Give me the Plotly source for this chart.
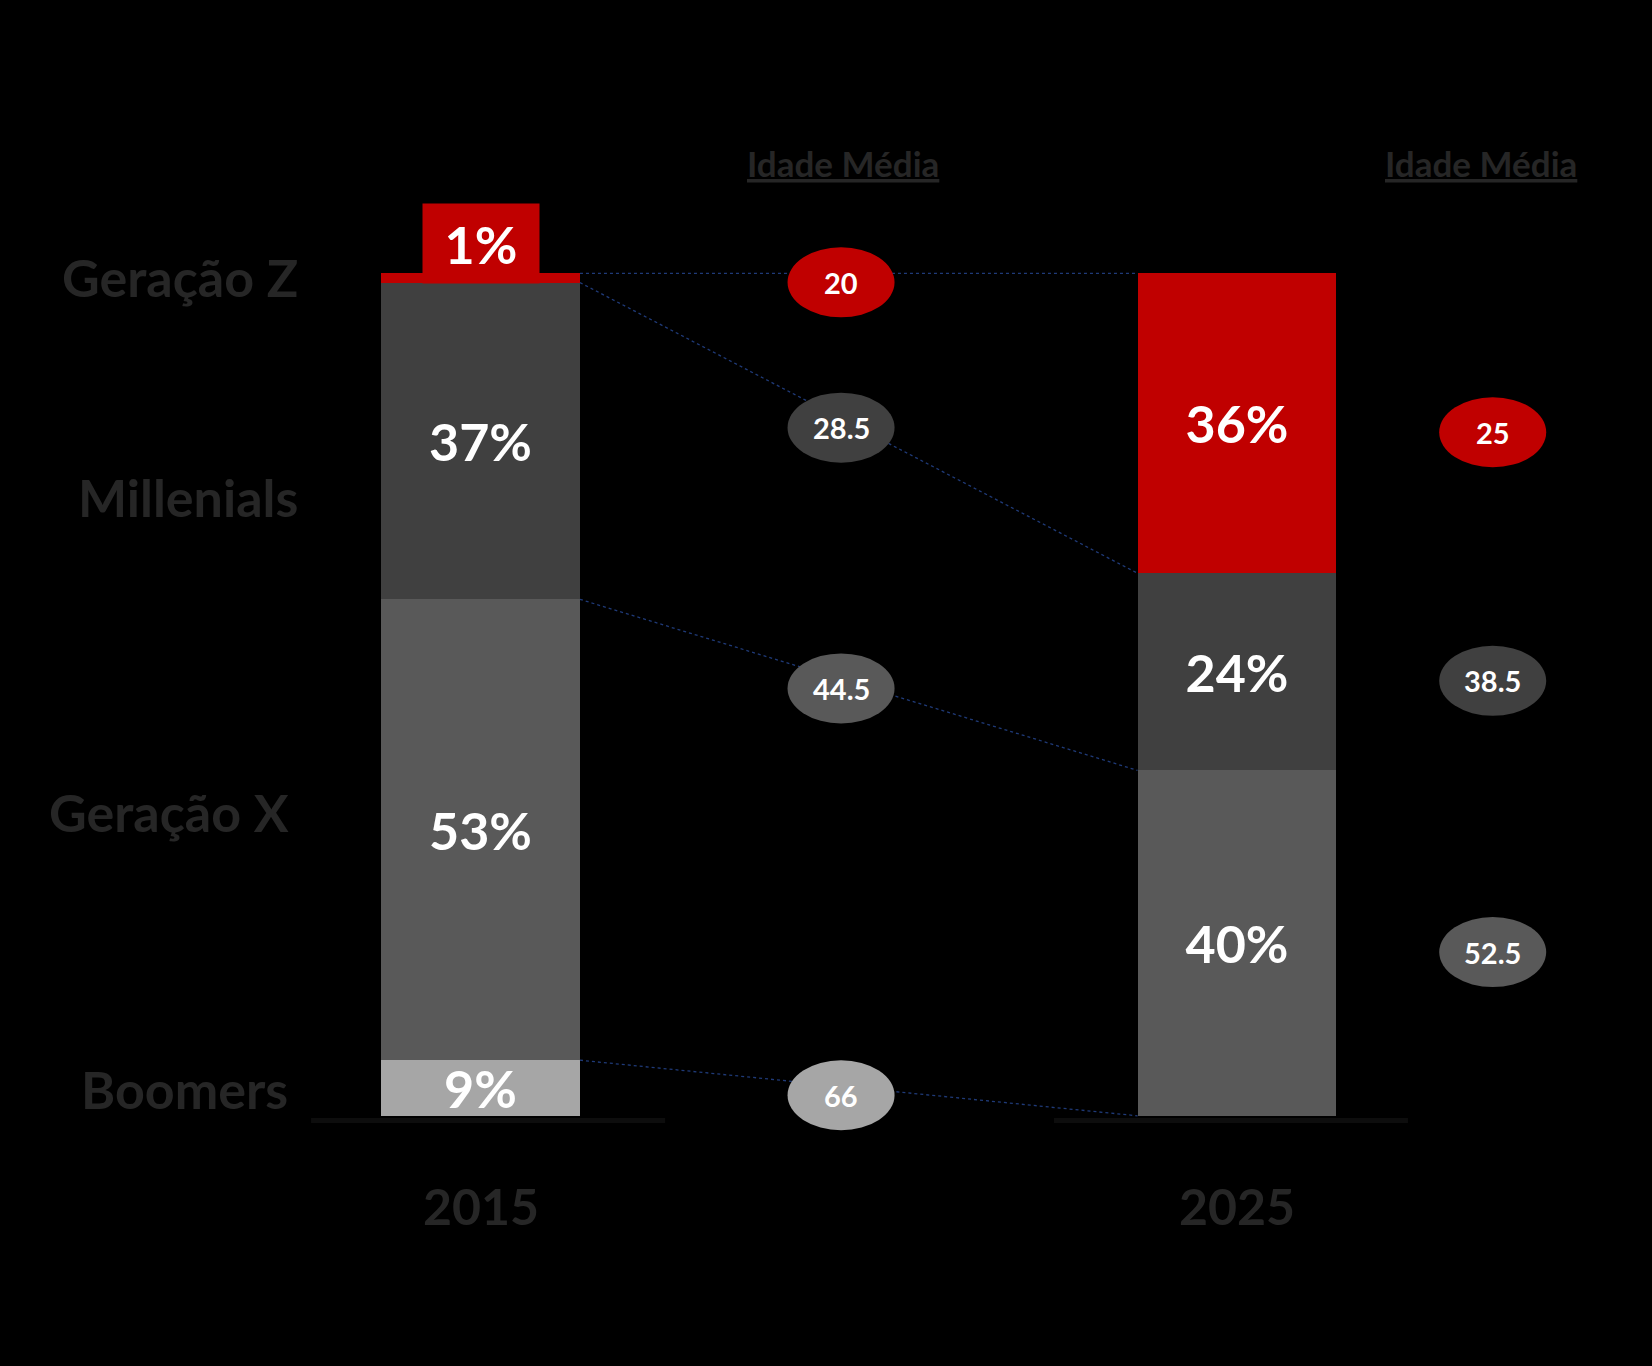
import plotly.graph_objects as go

# ---------------- data ----------------
years = ["2015", "2025"]
generations = ["Boomers", "Geração X", "Millenials", "Geração Z"]   # bottom -> top
share_2015 = [6.6, 54.7, 37.6, 1.1]          # bar heights as drawn (%)
share_2025 = [0.0, 41.0, 23.4, 35.6]
labels_2015 = ["9%", "53%", "37%", "1%"]
labels_2025 = ["", "40%", "24%", "36%"]
age_2015 = ["66", "44.5", "28.5", "20"]
age_2025 = ["", "52.5", "38.5", "25"]
header_text = "Idade Média"

# ---------------- style / layout ----------------
W, H = 1652, 1366
FONT = "Lato"
colors = ["#A6A6A6", "#595959", "#404040", "#C00000"]
TEXT_GREY = "#262626"
LINE_BLUE = "#1F3A78"

PX_PER_PCT = 8.425
Y_ZERO_PX = 1115.8
PX_PER_X = 756.5
X_ZERO_PX = 480.5
y_range = [-(H - Y_ZERO_PX) / PX_PER_PCT, Y_ZERO_PX / PX_PER_PCT]
x_range = [-X_ZERO_PX / PX_PER_X, (W - X_ZERO_PX) / PX_PER_X]

BAR_W = 0.263
COL_MID = 0.4766      # first "Idade Média" column
COL_RIGHT = 1.338     # second "Idade Média" column
ELL_W = 107 / PX_PER_X
ELL_H = 70 / PX_PER_PCT
ELL_SHIFT = -9 / PX_PER_PCT   # ellipses sit slightly below their guide
BASE_OFFSET = [0.01, -0.008]  # base-line centre offsets from bar centres

xpos = [0, 1]

fig = go.Figure()

def cumsum(v):
    out, s = [], 0
    for a in v:
        s += a
        out.append(s)
    return out

cum15 = cumsum(share_2015)
cum25 = cumsum(share_2025)

# connector lines (behind everything)
for i in range(len(generations)):
    fig.add_trace(go.Scatter(
        x=[xpos[0] + BAR_W / 2, xpos[1] - BAR_W / 2],
        y=[cum15[i], cum25[i]],
        mode="lines",
        line=dict(color=LINE_BLUE, width=1.3, dash="3px,3px"),
        hoverinfo="skip", showlegend=False))

# stacked bars
for i, g in enumerate(generations):
    t15 = labels_2015[i] if share_2015[i] > 3 else ""
    t25 = labels_2025[i] if share_2025[i] > 3 else ""
    fig.add_trace(go.Bar(
        x=xpos, y=[share_2015[i], share_2025[i]], width=BAR_W,
        name=g, marker=dict(color=colors[i], line=dict(width=0)),
        text=[t15, t25], textposition="inside", insidetextanchor="middle",
        textfont=dict(family=FONT, size=52, color="white", weight="bold"),
        hoverinfo="skip", showlegend=False))

shapes = []
annotations = []

# base lines under each bar
for xp, off in zip(xpos, BASE_OFFSET):
    shapes.append(dict(type="line", xref="x", yref="y",
                       x0=xp + off - 0.234, x1=xp + off + 0.234,
                       y0=-0.56, y1=-0.56,
                       line=dict(color="#0D0D0D", width=5), layer="below"))

# ellipses: middle column on the connectors, right column at 2025 segment mids
frac = (COL_MID - BAR_W / 2) / (1 - BAR_W)
for i in range(len(generations)):
    y_mid = cum15[i] + (cum25[i] - cum15[i]) * frac + ELL_SHIFT
    items = [(COL_MID, y_mid, age_2015[i])]
    if age_2025[i]:
        items.append((COL_RIGHT, cum25[i] - share_2025[i] / 2 + ELL_SHIFT,
                      age_2025[i]))
    for cx, cy, txt in items:
        shapes.append(dict(type="circle", xref="x", yref="y",
                           x0=cx - ELL_W / 2, x1=cx + ELL_W / 2,
                           y0=cy - ELL_H / 2, y1=cy + ELL_H / 2,
                           fillcolor=colors[i], line=dict(width=0)))
        annotations.append(dict(x=cx, y=cy, xref="x", yref="y", text=txt,
                                showarrow=False,
                                font=dict(family=FONT, size=29, color="white",
                                          weight="bold")))

# "1%" red tag above the 2015 bar
annotations.append(dict(x=xpos[0], y=cum15[-1], xref="x", yref="y",
                        yanchor="middle", yshift=29.8,
                        text=labels_2015[-1], showarrow=False,
                        width=116, height=79, bgcolor=colors[-1], borderpad=0,
                        font=dict(family=FONT, size=52, color="white",
                                  weight="bold")))

# year labels
for xp, yr in zip(xpos, years):
    annotations.append(dict(x=xp, y=0, xref="x", yref="y", yanchor="middle",
                            yshift=-90, text=yr, showarrow=False,
                            font=dict(family=FONT, size=50, color=TEXT_GREY,
                                      weight="bold")))

# generation labels on the left
gen_label_px = [1089, 812, 497, 277]
gen_label_right = [290, 291, 300, 300]
for g, ypx, xr in zip(generations, gen_label_px, gen_label_right):
    annotations.append(dict(x=xr / W, y=1 - ypx / H, xref="paper", yref="paper",
                            xanchor="right", yanchor="middle", text=g,
                            showarrow=False,
                            font=dict(family=FONT, size=52, color=TEXT_GREY,
                                      weight="bold")))

# headers
for cx in [COL_MID + 0.002, COL_RIGHT - 0.016]:
    annotations.append(dict(x=cx, y=1 - 163 / H, xref="x", yref="paper",
                            yanchor="middle", text="<u>" + header_text + "</u>",
                            showarrow=False,
                            font=dict(family=FONT, size=35, color=TEXT_GREY,
                                      weight="bold")))

fig.update_layout(
    width=W, height=H,
    margin=dict(l=0, r=0, t=0, b=0, pad=0),
    paper_bgcolor="black", plot_bgcolor="black",
    barmode="stack", bargap=0,
    xaxis=dict(range=x_range, visible=False, fixedrange=True),
    yaxis=dict(range=y_range, visible=False, fixedrange=True),
    uniformtext=dict(minsize=52, mode="show"),
    shapes=shapes, annotations=annotations,
    showlegend=False,
)

fig.write_html("out.html", config={"displayModeBar": False},
               post_script="document.body.style.margin='0';document.body.style.background='black';")
